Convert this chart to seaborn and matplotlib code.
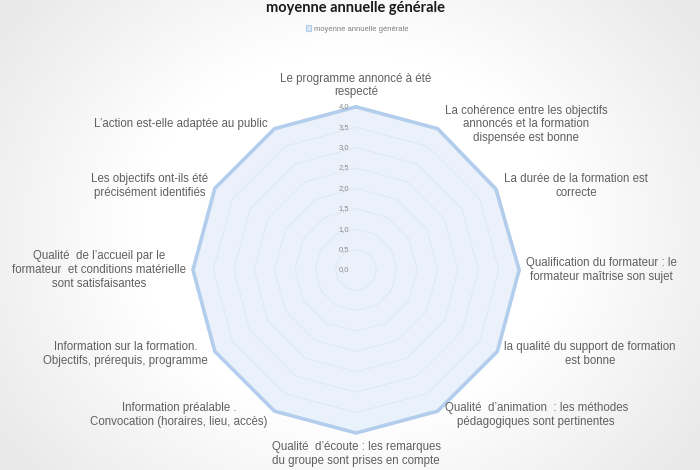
import numpy as np
import pandas as pd
import matplotlib
matplotlib.use("Agg")
import matplotlib.pyplot as plt
import seaborn as sns
from matplotlib.patches import Patch
from matplotlib.colors import LinearSegmentedColormap

# ------------------------------------------------------------
# Données
# ------------------------------------------------------------
categories = [
    "Le programme annoncé à été\nrespecté",
    "La cohérence entre les objectifs\nannoncés et la formation\ndispensée est bonne",
    "La durée de la formation est\ncorrecte",
    "Qualification du formateur : le\nformateur maîtrise son sujet",
    "la qualité du support de formation\nest bonne",
    "Qualité  d’animation  : les méthodes\npédagogiques sont pertinentes",
    "Qualité  d’écoute : les remarques\ndu groupe sont prises en compte",
    "Information préalable .\nConvocation (horaires, lieu, accès)",
    "Information sur la formation.\nObjectifs, prérequis, programme",
    "Qualité  de l’accueil par le\nformateur  et conditions matérielle\nsont satisfaisantes",
    "Les objectifs ont-ils été\nprécisément identifiés",
    "L’action est-elle adaptée au public",
]
valeurs = [4.0, 4.0, 3.96, 4.0, 4.0, 4.0, 4.0, 4.0, 4.0, 4.0, 4.0, 4.0]
niveaux = [0.5, 1.0, 1.5, 2.0, 2.5, 3.0, 3.5, 4.0]
etiquettes_r = ["0,0", "0,5", "1,0", "1,5", "2,0", "2,5", "3,0", "3,5", "4,0"]
serie = "moyenne annuelle générale"

LINE_COL = "#b3cdec"
FILL_COL = "#e3edf9"
GRID_COL = "#d9d9d9"
TXT_COL = "#606060"

n = len(categories)
theta = np.linspace(0, 2 * np.pi, n, endpoint=False)
theta_c = np.append(theta, 2 * np.pi)

df = pd.DataFrame({"theta": theta_c, "valeur": valeurs + [valeurs[0]]})

# ------------------------------------------------------------
# Figure
# ------------------------------------------------------------
sns.set_style("white")
plt.rcParams["font.family"] = ["Liberation Sans", "DejaVu Sans"]

fig = plt.figure(figsize=(7, 4.7), dpi=100)

# fond dégradé (blanc au centre, gris sur les bords)
bg = fig.add_axes([0, 0, 1, 1], zorder=-10)
yy, xx = np.mgrid[-1:1:200j, -1:1:300j]
dist = np.sqrt((xx * 0.9) ** 2 + (yy * 0.7) ** 2)
cmap_bg = LinearSegmentedColormap.from_list("bg", ["#ffffff", "#ffffff", "#e9e9e9"])
bg.imshow(dist, cmap=cmap_bg, aspect="auto", extent=[0, 1, 0, 1], vmin=0, vmax=1.1)
bg.axis("off")

ax = fig.add_axes([0.2757, 0.0787, 0.466, 0.694], projection="polar")
ax.patch.set_alpha(0)
ax.set_theta_zero_location("N")
ax.set_theta_direction(-1)
ax.set_ylim(0, 4)
ax.grid(False)
ax.spines["polar"].set_visible(False)
ax.set_xticks([])
ax.set_yticks([])

# grille polygonale
for lv in niveaux:
    ax.plot(theta_c, [lv] * (n + 1), color=GRID_COL, lw=0.8, zorder=1)

# série
ax.fill(df["theta"], df["valeur"], color=FILL_COL, alpha=0.75, zorder=2, lw=0)
sns.lineplot(data=df, x="theta", y="valeur", ax=ax, sort=False, estimator=None,
             color=LINE_COL, lw=2.6, zorder=3, clip_on=False)
ax.set_xlabel("")
ax.set_ylabel("")

# étiquettes de l'axe radial
for r, lab in zip([0.0] + niveaux, etiquettes_r):
    ax.annotate(lab, xy=(0, r), xytext=(-5, 0), textcoords="offset points",
                ha="right", va="center", fontsize=5.5, color="#8c8c8c")

# étiquettes des catégories
for t, lab in zip(theta, categories):
    s, c = np.sin(t), np.cos(t)
    if s > 0.1:
        ha = "left"
    elif s < -0.1:
        ha = "right"
    else:
        ha = "center"
    if abs(s) < 0.1:
        va = "bottom" if c > 0 else "top"
        off = (0, 6 * np.sign(c))
    else:
        va = "center"
        off = (5 * np.sign(s), 3.5 * c)
    ax.annotate(lab, xy=(t, 4.0), xytext=off, textcoords="offset points",
                ha=ha, va=va, multialignment="center", fontsize=8.3,
                color=TXT_COL, annotation_clip=False)

# titre et légende
fig.text(0.508, 0.983, serie, ha="center", va="center", fontsize=10.5,
         fontweight="bold", family=["Lato", "DejaVu Sans"], color="#1a1a1a")
handle = Patch(facecolor="#dbe7f6", edgecolor=LINE_COL, lw=0.8, label=serie)
fig.legend(handles=[handle], loc="center", bbox_to_anchor=(0.51, 0.938),
           frameon=False, fontsize=5.5, handlelength=0.7, handleheight=0.7,
           handletextpad=0.3, labelcolor="#7f7f7f")

fig.savefig("out.png", dpi=100)
